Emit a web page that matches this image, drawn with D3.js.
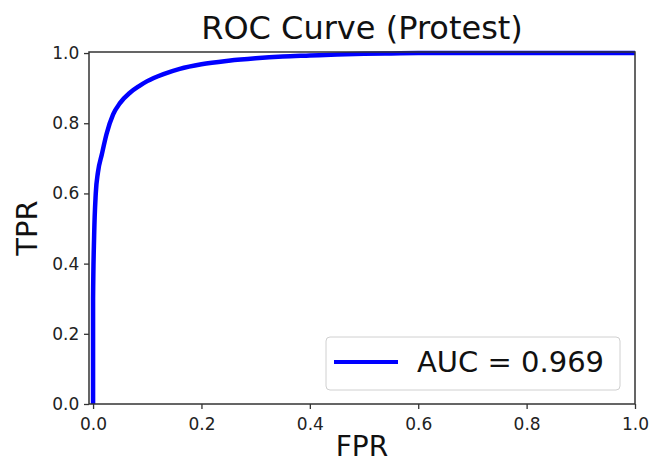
<!DOCTYPE html>
<html>
<head>
<meta charset="utf-8">
<script src="https://cdn.jsdelivr.net/npm/d3@7"></script>
<style>
  body { margin: 0; background: #fff; }
  svg { font-family: "DejaVu Sans", sans-serif; }
</style>
</head>
<body>
<svg width="649" height="464"></svg>
<script>
// ROC curve points
const fpr = [0.0, 0.0, 0.002, 0.005, 0.009, 0.016, 0.025, 0.037, 0.05, 0.068, 0.085, 0.1, 0.13, 0.16, 0.2, 0.25, 0.3, 0.35, 0.4, 0.45, 0.5, 0.55, 0.6, 0.7, 0.8, 0.9, 1.0];
const tpr = [0.0, 0.3, 0.48, 0.6, 0.66, 0.71, 0.77, 0.825, 0.858, 0.887, 0.906, 0.92, 0.94, 0.955, 0.968, 0.978, 0.985, 0.99, 0.993, 0.996, 0.998, 0.999, 1.0, 1.0, 1.0, 1.0, 1.0];
const xTicks = [0, 0.2, 0.4, 0.6, 0.8, 1.0];
const yTicks = [0, 0.2, 0.4, 0.6, 0.8, 1.0];
const legendLabel = "AUC = 0.969";

const svg = d3.select("svg");
const mLeft = 89, mRight = 635, mTop = 52, mBottom = 404;

const x = d3.scaleLinear().domain([-0.0075, 1.0]).range([mLeft, mRight]);
const y = d3.scaleLinear().domain([0, 1.003]).range([mBottom, mTop]);

// Curve
const pts = fpr.map((f, i) => [f, tpr[i]]);
svg.append("path")
    .datum(pts)
    .attr("fill", "none")
    .attr("stroke", "#0000ff")
    .attr("stroke-width", 4.5)
    .attr("stroke-linejoin", "round")
    .attr("d", d3.line().x(d => x(d[0])).y(d => y(d[1])).curve(d3.curveMonotoneX));

// Axes
const xAxis = svg.append("g")
    .attr("transform", `translate(0, ${mBottom})`)
    .call(d3.axisBottom(x).tickValues(xTicks).tickFormat(d3.format(".1f")).tickSize(5).tickSizeOuter(0));
const yAxis = svg.append("g")
    .attr("transform", `translate(${mLeft}, 0)`)
    .call(d3.axisLeft(y).tickValues(yTicks).tickFormat(d3.format(".1f")).tickSize(5).tickSizeOuter(0));

[xAxis, yAxis].forEach(g => {
    g.select(".domain").remove();
    g.selectAll(".tick line").attr("stroke", "#333").attr("stroke-width", 1.3);
    g.selectAll(".tick text")
        .attr("fill", "#222")
        .style("font-size", "17px")
        .style("font-family", "DejaVu Sans");
});
xAxis.selectAll(".tick text").attr("dy", "1.05em");
yAxis.selectAll(".tick text").attr("dx", "-0.1em");

// Frame
svg.append("rect")
    .attr("x", mLeft).attr("y", mTop)
    .attr("width", mRight - mLeft).attr("height", mBottom - mTop)
    .attr("fill", "none")
    .attr("stroke", "#333")
    .attr("stroke-width", 1.5);

// Title and labels
svg.append("text")
    .attr("x", (mLeft + mRight) / 2).attr("y", 39)
    .attr("text-anchor", "middle")
    .style("font-size", "32px")
    .attr("fill", "#111")
    .text("ROC Curve (Protest)");

svg.append("text")
    .attr("x", (mLeft + mRight) / 2).attr("y", 456)
    .attr("text-anchor", "middle")
    .style("font-size", "28px")
    .attr("fill", "#111")
    .text("FPR");

svg.append("text")
    .attr("transform", `translate(37, ${(mTop + mBottom) / 2}) rotate(-90)`)
    .attr("text-anchor", "middle")
    .style("font-size", "29px")
    .attr("fill", "#111")
    .text("TPR");

// Legend
const lg = svg.append("g");
lg.append("rect")
    .attr("x", 326).attr("y", 337)
    .attr("width", 294).attr("height", 53)
    .attr("rx", 4)
    .attr("fill", "#fff")
    .attr("stroke", "#d0d0d0")
    .attr("stroke-width", 1);
lg.append("line")
    .attr("x1", 334).attr("x2", 398)
    .attr("y1", 362).attr("y2", 362)
    .attr("stroke", "#0000ff")
    .attr("stroke-width", 4);
lg.append("text")
    .attr("x", 417).attr("y", 372)
    .style("font-size", "29px")
    .attr("fill", "#111")
    .text(legendLabel);
</script>
</body>
</html>
